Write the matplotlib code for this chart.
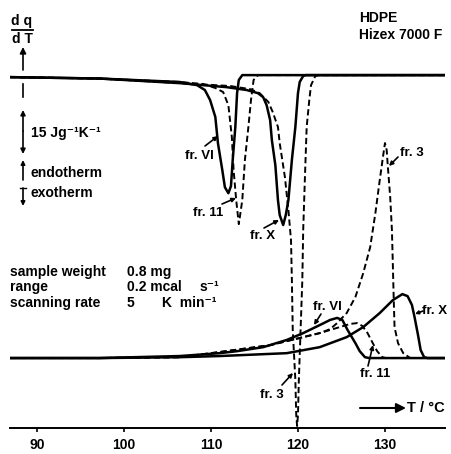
import matplotlib
matplotlib.use("Agg")
import matplotlib.pyplot as plt

plt.rcParams['font.family'] = ['Liberation Sans', 'DejaVu Sans']
plt.rcParams['font.weight'] = 'bold'
plt.rcParams['lines.scale_dashes'] = False

# ---------------- data (T in deg C, dq/dT in J g-1 K-1 relative to baseline) ----
# cooling runs (exotherm, upper traces)
cool_VI_T = [86.9, 97.2, 106.4, 108.4, 109.3, 109.9, 110.5, 110.8, 111.3, 111.6, 112.0, 112.3, 112.5, 112.8, 113.0, 113.2, 113.6, 136.9]
cool_VI_v = [-0.7, -1.2, -2.4, -3.5, -5.2, -8.7, -14.6, -23.7, -33.1, -39.1, -41.2, -38.7, -29.6, -18.1, -6.3, -1.7, 0, 0]

cool_11_T = [86.9, 97.2, 106.4, 109.1, 110.5, 111.4, 112.0, 112.4, 112.6, 112.9, 113.2, 113.6, 113.9, 114.3, 114.6, 114.9, 115.4, 136.9]
cool_11_v = [-0.7, -1.2, -2.4, -3.1, -4.5, -5.9, -10.5, -21.6, -33.1, -43.6, -52.0, -43.6, -29.6, -18.1, -8.7, -1.7, 0, 0]

cool_X_T = [86.9, 97.2, 106.4, 111.8, 114.1, 115.4, 116.0, 116.4, 116.8, 117.0, 117.4, 117.7, 117.9, 118.3, 118.6, 118.9, 119.3, 119.7, 120.0, 120.2, 120.6, 120.9, 136.9]
cool_X_v = [-0.7, -1.2, -2.8, -4.2, -5.2, -6.3, -7.7, -10.5, -15.7, -22.7, -31.4, -43.6, -48.8, -52.3, -48.8, -43.6, -29.6, -18.1, -6.3, -2.4, -0.3, 0, 0]

cool_3_T = [86.9, 97.2, 106.4, 112.2, 114.5, 115.6, 116.6, 117.1, 117.7, 117.9, 118.5, 118.9, 119.2, 119.3, 119.4, 119.7, 119.8, 119.9, 120.0, 120.1, 120.3, 120.5, 120.6, 120.8, 121.0, 121.3, 121.5, 122.0, 122.4, 136.9]
cool_3_v = [-0.7, -1.2, -2.8, -3.8, -4.9, -6.3, -9.4, -12.9, -18.1, -23.7, -35.6, -47.1, -57.6, -71.5, -88.9, -106.4, -118.6, -122.4, -118.6, -106.4, -88.9, -71.5, -54.1, -35.6, -18.1, -8.7, -3.5, -0.3, 0, 0]

# heating runs (endotherm, lower traces)
heat_VI_T = [86.9, 97.2, 106.4, 111.0, 113.0, 116.0, 118.7, 120.6, 122.5, 123.7, 124.5, 125.1, 125.7, 126.6, 127.1, 127.7, 128.2, 136.9]
heat_VI_v = [0, 0, 0.7, 1.7, 2.4, 3.8, 6.3, 8.7, 11.5, 13.3, 14.0, 13.3, 9.8, 5.2, 2.4, 0.3, 0, 0]

heat_11_T = [86.9, 97.2, 106.4, 111.0, 116.8, 120.2, 122.5, 124.8, 126.0, 126.8, 127.4, 128.0, 128.6, 129.1, 129.7, 130.1, 136.9]
heat_11_v = [0, 0, 0.3, 2.1, 4.5, 7.0, 8.7, 10.8, 11.9, 12.2, 11.2, 8.7, 5.2, 2.4, 0.3, 0, 0]

heat_X_T = [86.9, 97.2, 106.4, 111.0, 118.7, 122.5, 125.6, 127.5, 129.4, 130.9, 132.0, 132.6, 133.1, 133.4, 133.8, 134.1, 134.5, 134.9, 136.9]
heat_X_v = [0, 0, 0.3, 0.7, 1.7, 3.8, 7.3, 10.8, 15.7, 20.2, 22.3, 21.6, 18.5, 14.3, 8.0, 2.8, 0.3, 0, 0]

heat_3_T = [86.9, 97.2, 106.4, 111.0, 116.8, 120.2, 122.5, 123.7, 124.5, 125.6, 126.6, 127.5, 128.3, 128.9, 129.4, 129.8, 130.0, 130.2, 130.3, 130.6, 130.8, 130.9, 131.0, 131.1, 131.5, 132.1, 132.9, 136.9]
heat_3_v = [0, 0, 0.3, 2.1, 4.5, 7.0, 8.7, 10.1, 12.2, 15.7, 21.3, 29.6, 38.7, 50.6, 62.1, 70.8, 75.0, 72.5, 68.0, 56.2, 44.6, 33.1, 21.3, 10.8, 5.2, 1.7, 0, 0]

x_ticks = [90, 100, 110, 120, 130]

# ---------------- figure -------------------------------------------------------
W, H = 452, 454
fig = plt.figure(figsize=(W / 100, H / 100), dpi=100)
ax = fig.add_axes([10 / W, (H - 428) / H, 435 / W, 428 / H])
ax.set_xlim(86.9, 136.9)
ax.set_ylim(0, 149.3)

up_off = 123.1
low_off = 24.4
solid = dict(color='black', lw=1.8, solid_capstyle='butt')
dashed = dict(color='black', lw=1.4, dashes=(4.5, 2.4))


def shift(vals, off):
    return [off + v for v in vals]

ax.plot(cool_VI_T, shift(cool_VI_v, up_off), **solid)
ax.plot(cool_11_T, shift(cool_11_v, up_off), **dashed)
ax.plot(cool_X_T, shift(cool_X_v, up_off), **solid)
ax.plot(cool_3_T, shift(cool_3_v, up_off), **dashed)
ax.plot(heat_VI_T, shift(heat_VI_v, low_off), **solid)
ax.plot(heat_11_T, shift(heat_11_v, low_off), **dashed)
ax.plot(heat_X_T, shift(heat_X_v, low_off), **solid)
ax.plot(heat_3_T, shift(heat_3_v, low_off), **dashed)

for s in ['top', 'left', 'right']:
    ax.spines[s].set_visible(False)
ax.spines['bottom'].set_linewidth(1.4)
ax.set_yticks([])
ax.set_xticks(x_ticks)
ax.set_xticklabels([str(t) for t in x_ticks], fontsize=10, fontweight='bold')
ax.tick_params(axis='x', direction='out', length=3, width=1.2, pad=4.5)
ax.patch.set_alpha(0)

# ---------------- annotation overlay (pixel coordinates) -----------------------
ov = fig.add_axes([0, 0, 1, 1])
ov.set_xlim(0, W)
ov.set_ylim(H, 0)
ov.axis('off')
ov.patch.set_alpha(0)

fs = 10
tk = dict(fontsize=fs, fontweight='bold', color='black')


def arrow(x0, y0, x1, y1, style='-|>', ms=8, lw=1.2):
    ov.annotate('', xy=(x1, y1), xytext=(x0, y0),
                arrowprops=dict(arrowstyle=style, color='black', lw=lw,
                                mutation_scale=ms, shrinkA=0, shrinkB=0))

# dq/dT
ov.text(22, 21, 'd q', ha='center', va='center', **tk)
ov.plot([12, 33], [30, 30], color='black', lw=1.3)
ov.text(22, 39, 'd T', ha='center', va='center', **tk)
arrow(23, 70, 23, 47, ms=9)
ov.plot([23, 23], [84, 97], color='black', lw=1.2)

# scale bar
arrow(23, 131, 23, 110, ms=7)
arrow(23, 131, 23, 154, ms=7)
ov.text(31, 133, '15 Jg⁻¹K⁻¹', ha='left', va='center', **tk)

# endotherm / exotherm
arrow(23, 180, 23, 160, ms=6)
ov.text(31, 173, 'endotherm', ha='left', va='center', **tk)
ov.plot([20, 26], [188, 188], color='black', lw=1.0)
arrow(23, 188, 23, 206, ms=6)
ov.text(31, 193, 'exotherm', ha='left', va='center', **tk)

# title
ov.text(359, 18, 'HDPE', ha='left', va='center', **tk)
ov.text(359, 35, 'Hizex 7000 F', ha='left', va='center', **tk)

# conditions
ov.text(10, 272, 'sample weight', ha='left', va='center', **tk)
ov.text(10, 287, 'range', ha='left', va='center', **tk)
ov.text(10, 303, 'scanning rate', ha='left', va='center', **tk)
ov.text(127, 272, '0.8 mg', ha='left', va='center', **tk)
ov.text(127, 287, '0.2 mcal', ha='left', va='center', **tk)
ov.text(200, 287, 's⁻¹', ha='left', va='center', **tk)
ov.text(127, 303, '5', ha='left', va='center', **tk)
ov.text(162, 303, 'K  min⁻¹', ha='left', va='center', **tk)

# T axis label with arrow
arrow(360, 408, 406, 408, style='-|>', ms=14, lw=1.5)
ov.text(407, 408, 'T / °C', ha='left', va='center', fontsize=10.5, fontweight='bold')

# fraction labels
lab = dict(fontsize=9.5, fontweight='bold', color='black', va='center')
ov.text(185, 156, 'fr. VI', ha='left', **lab)
arrow(205, 146, 218, 136, ms=6)
ov.text(193, 213, 'fr. 11', ha='left', **lab)
arrow(222, 204, 236, 198, ms=6)
ov.text(250, 236, 'fr. X', ha='left', **lab)
arrow(264, 228, 279, 220, ms=6)
ov.text(400, 153, 'fr. 3', ha='left', **lab)
arrow(398, 157, 389, 166, ms=6)
ov.text(313, 307, 'fr. VI', ha='left', **lab)
arrow(321, 314, 314, 325, ms=6)
ov.text(422, 311, 'fr. X', ha='left', **lab)
arrow(423, 311, 415, 314, ms=5)
ov.text(360, 374, 'fr. 11', ha='left', **lab)
arrow(368, 366, 373, 345, ms=6)
ov.text(260, 395, 'fr. 3', ha='left', **lab)
arrow(282, 385, 293, 373, ms=6)

fig.savefig('out.png', dpi=100, facecolor='white')
